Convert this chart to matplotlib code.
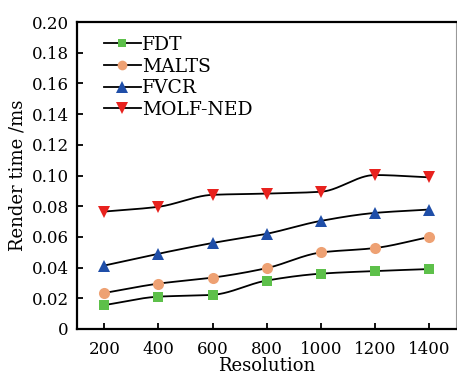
import numpy as np
import matplotlib.pyplot as plt

plt.rcParams['font.family'] = ['DejaVu Serif']

# data
resolution = [200, 400, 600, 800, 1000, 1200, 1400]
fdt = [0.0155, 0.021, 0.0222, 0.0315, 0.036, 0.0377, 0.039]
malts = [0.0234, 0.0295, 0.0334, 0.0396, 0.0498, 0.0527, 0.0599]
fvcr = [0.0413, 0.049, 0.056, 0.062, 0.0704, 0.0756, 0.0778]
molf_ned = [0.0765, 0.0796, 0.0874, 0.0882, 0.0894, 0.1003, 0.0988]

series = [
    ('FDT', fdt, 's', '#5dc04a', 7),
    ('MALTS', malts, 'o', '#eea173', 8),
    ('FVCR', fvcr, '^', '#1f4ea8', 9),
    ('MOLF-NED', molf_ned, 'v', '#e8221e', 9),
]


def pchip(x, y, xs):
    # monotone cubic curve through the points, only for the line shape
    x = np.asarray(x, float)
    y = np.asarray(y, float)
    h = np.diff(x)
    d = np.diff(y) / h
    m = np.zeros_like(y)
    for i in range(1, len(y) - 1):
        if d[i - 1] * d[i] > 0:
            w1 = 2 * h[i] + h[i - 1]
            w2 = h[i] + 2 * h[i - 1]
            m[i] = (w1 + w2) / (w1 / d[i - 1] + w2 / d[i])
    m[0] = d[0]
    m[-1] = d[-1]
    idx = np.clip(np.searchsorted(x, xs) - 1, 0, len(x) - 2)
    t = (xs - x[idx]) / h[idx]
    h00 = 2 * t**3 - 3 * t**2 + 1
    h10 = t**3 - 2 * t**2 + t
    h01 = -2 * t**3 + 3 * t**2
    h11 = t**3 - t**2
    return h00 * y[idx] + h10 * h[idx] * m[idx] + h01 * y[idx + 1] + h11 * h[idx] * m[idx + 1]


fig = plt.figure(figsize=(4.57, 3.75), dpi=100)
ax = fig.add_axes([0.169, 0.123, 0.829, 0.818])

xs = np.linspace(resolution[0], resolution[-1], 300)
for name, vals, mk, col, ms in series:
    ax.plot(xs, pchip(resolution, vals, xs), color='black', lw=1.3, zorder=2)
    ax.plot(resolution, vals, linestyle='none', marker=mk, color=col,
            markersize=ms, markeredgewidth=0, zorder=3)
    # legend handle
    ax.plot([], [], color='black', lw=1.3, marker=mk, markerfacecolor=col,
            markeredgewidth=0, markersize=ms - 1, label=name)

ax.set_xlim(100, 1500)
ax.set_ylim(0, 0.20)
ax.set_xticks(resolution)
ax.set_yticks(np.arange(0, 0.201, 0.02))
ax.set_yticklabels(['0'] + ['%.2f' % v for v in np.arange(0.02, 0.201, 0.02)])
ax.tick_params(axis='y', direction='in', labelsize=12, length=4, width=1.3, pad=6)
ax.tick_params(axis='x', direction='in', labelsize=12, length=4, width=1.3, pad=9)
ax.set_xlabel('Resolution', fontsize=13, labelpad=-1)
ax.set_ylabel('Render time /ms', fontsize=13, labelpad=4)

for side in ['left', 'bottom', 'top']:
    ax.spines[side].set_linewidth(1.6)
ax.spines['right'].set_color('#999999')

ax.legend(loc='upper left', frameon=False, fontsize=13.5, handlelength=2.0,
          handletextpad=0.05, labelspacing=0.2, borderaxespad=0,
          bbox_to_anchor=(0.05, 0.98))

fig.savefig('out.png', dpi=100)
